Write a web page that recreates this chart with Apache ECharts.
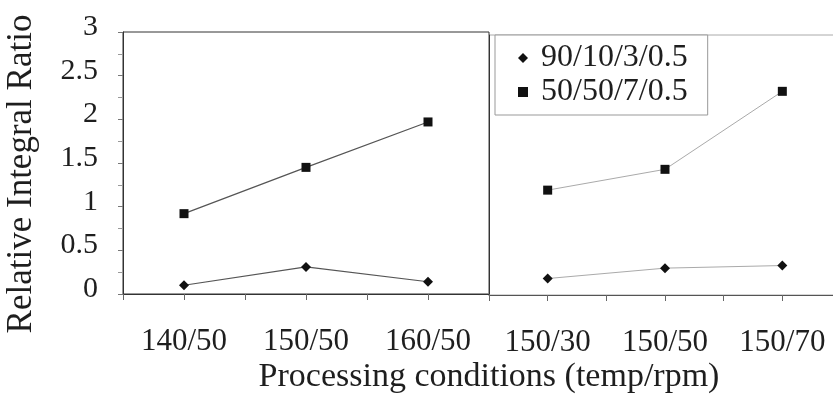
<!DOCTYPE html>
<html>
<head>
<meta charset="utf-8">
<script src="https://cdn.jsdelivr.net/npm/echarts@6/dist/echarts.min.js"></script>
<style>
html,body{margin:0;padding:0;background:#fff;}
#chart{width:833px;height:404px;}
</style>
</head>
<body>
<div id="chart"></div>
<script>
// ---- data ----
const leftCategories = ['140/50', '150/50', '160/50'];
const rightCategories = ['150/30', '150/50', '150/70'];
const seriesNames = ['90/10/3/0.5', '50/50/7/0.5'];
const leftDiamond = [0.10, 0.31, 0.14];
const leftSquare = [0.92, 1.45, 1.97];
const rightDiamond = [0.19, 0.31, 0.34];
const rightSquare = [1.21, 1.45, 2.35];
const yMin = 0, yMax = 3, yStep = 0.5;
const yTitle = 'Relative Integral Ratio';
const xTitle = 'Processing conditions (temp/rpm)';

const FONT = '"Liberation Serif", "DejaVu Serif", serif';
const TXT = '#1e1e1e';

const chart = echarts.init(document.getElementById('chart'), null, {renderer: 'canvas'});

function catAxis(gridIndex, data, withLabels, lineColor) {
  return {
    type: 'category', gridIndex: gridIndex, data: data, position: 'bottom',
    boundaryGap: true,
    axisLine: {show: withLabels, lineStyle: {color: lineColor, width: 1}},
    axisTick: {show: true, inside: false, length: 6, alignWithLabel: !withLabels,
      lineStyle: {color: '#666', width: 1}},
    axisLabel: {show: withLabels, fontFamily: FONT, fontSize: 31, color: TXT, margin: 32},
    splitLine: {show: false}
  };
}

const option = {
  backgroundColor: '#fff',
  animation: false,
  grid: [
    {left: 123, top: 32, width: 366, height: 262, show: true, borderColor: '#333', borderWidth: 1,
      backgroundColor: 'transparent', outerBoundsMode: 'none', containLabel: false},
    {left: 489, top: 35, width: 352, height: 260, show: true, borderColor: '#aaa', borderWidth: 1,
      backgroundColor: 'transparent', outerBoundsMode: 'none', containLabel: false}
  ],
  xAxis: [
    catAxis(0, leftCategories, true, '#333'),
    catAxis(0, leftCategories, false, '#333'),
    catAxis(1, rightCategories, true, '#555'),
    catAxis(1, rightCategories, false, '#555')
  ],
  yAxis: [
    {
      type: 'value', gridIndex: 0, min: yMin, max: yMax, interval: yStep,
      axisLine: {show: true, lineStyle: {color: '#333', width: 1}},
      axisTick: {show: true, inside: false, length: 5, lineStyle: {color: '#777'}},
      minorTick: {show: true, splitNumber: 2, length: 5, lineStyle: {color: '#999'}},
      splitLine: {show: false},
      axisLabel: {fontFamily: FONT, fontSize: 30, color: TXT, margin: 25,
        verticalAlign: 'bottom', lineHeight: 10},
      name: yTitle, nameLocation: 'middle', nameGap: 84, nameRotate: 90,
      nameTextStyle: {fontFamily: FONT, fontSize: 35, color: TXT, padding: [0, 22, 0, 0]}
    },
    {
      type: 'value', gridIndex: 1, min: yMin, max: yMax, interval: yStep,
      axisLine: {show: true, lineStyle: {color: '#333', width: 1}},
      axisTick: {show: false}, axisLabel: {show: false}, splitLine: {show: false}
    }
  ],
  legend: {
    left: 495, top: 35, orient: 'vertical',
    data: [
      {name: seriesNames[0], icon: 'diamond'},
      {name: seriesNames[1], icon: 'rect'}
    ],
    itemWidth: 10, itemHeight: 10, itemGap: 2,
    padding: [7, 20, 7, 23],
    borderColor: '#999', borderWidth: 1, backgroundColor: '#fff',
    textStyle: {fontFamily: FONT, fontSize: 32, color: TXT, padding: [0, 0, 0, 8]}
  },
  graphic: [
    {type: 'text', x: 489, y: 377,
      style: {text: xTitle, font: '34px ' + FONT, fill: TXT, align: 'center', verticalAlign: 'middle'}}
  ],
  series: [
    {name: seriesNames[0], type: 'line', xAxisIndex: 0, yAxisIndex: 0, data: leftDiamond,
      symbol: 'diamond', symbolSize: 10, itemStyle: {color: '#111'},
      lineStyle: {color: '#555', width: 1.2}},
    {name: seriesNames[1], type: 'line', xAxisIndex: 0, yAxisIndex: 0, data: leftSquare,
      symbol: 'rect', symbolSize: 9, itemStyle: {color: '#111'},
      lineStyle: {color: '#555', width: 1.2}},
    {name: seriesNames[0], type: 'line', xAxisIndex: 2, yAxisIndex: 1, data: rightDiamond,
      symbol: 'diamond', symbolSize: 10, itemStyle: {color: '#111'},
      lineStyle: {color: '#aaa', width: 1}},
    {name: seriesNames[1], type: 'line', xAxisIndex: 2, yAxisIndex: 1, data: rightSquare,
      symbol: 'rect', symbolSize: 9, itemStyle: {color: '#111'},
      lineStyle: {color: '#aaa', width: 1}}
  ]
};
chart.setOption(option);
</script>
</body>
</html>
